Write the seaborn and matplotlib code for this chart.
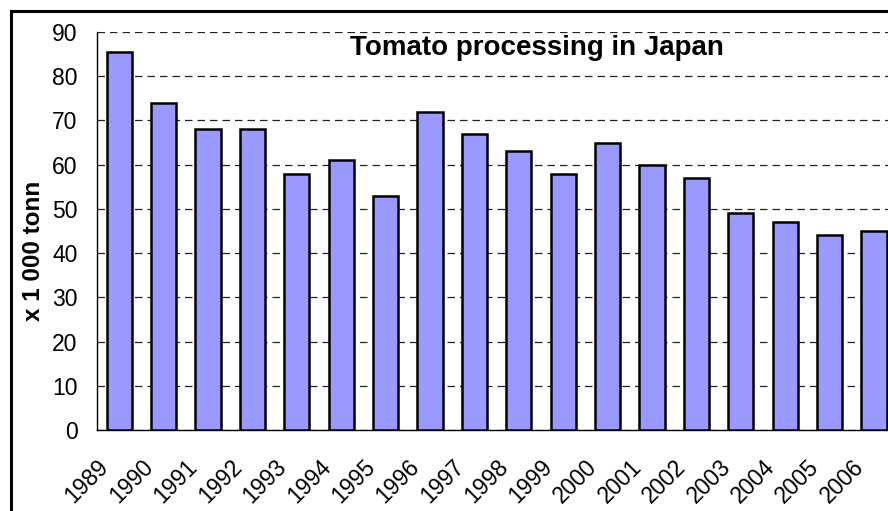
import matplotlib
matplotlib.use("Agg")
import matplotlib.pyplot as plt
import matplotlib.transforms as mtransforms
from matplotlib.patches import Rectangle
import numpy as np
import pandas as pd
import seaborn as sns

# datos
anios = ['1989', '1990', '1991', '1992', '1993', '1994', '1995', '1996', '1997',
         '1998', '1999', '2000', '2001', '2002', '2003', '2004', '2005', '2006']
toneladas = [85.5, 74, 68, 68, 58, 61, 53, 72, 67, 63, 58, 65, 60, 57, 49, 47, 44, 45]
y_ticks = [0, 10, 20, 30, 40, 50, 60, 70, 80, 90]

sns.set_style("white")
plt.rcParams['font.family'] = ['Liberation Sans', 'DejaVu Sans']
plt.rcParams.update({'text.color': 'black', 'axes.labelcolor': 'black',
                     'xtick.color': 'black', 'ytick.color': 'black'})

df = pd.DataFrame({'anio': anios, 'valor': toneladas})

W, H = 888, 511
fig = plt.figure(figsize=(W / 100, H / 100), dpi=100)
# el eje sigue mas alla del borde derecho (imagen recortada)
ax = fig.add_axes([97 / W, (H - 430) / H, 18 * 44.4 / W, 398 / H])

sns.barplot(data=df, x='anio', y='valor', ax=ax, color='#9999FF', saturation=1,
            width=0.57, edgecolor='black', linewidth=1.8, zorder=3)

ax.set_xlim(-0.5, len(anios) - 0.5)
ax.set_ylim(0, 90)
ax.set_yticks(y_ticks)
ax.yaxis.grid(True, linestyle=(0, (6, 4)), color='#222222', linewidth=0.9, zorder=0)
ax.xaxis.grid(False)

for lado in ['top', 'right']:
    ax.spines[lado].set_visible(False)
for lado in ['left', 'bottom']:
    ax.spines[lado].set_color('black')
    ax.spines[lado].set_linewidth(1.0)

ax.tick_params(axis='y', direction='out', length=8, width=1, labelsize=16.5, pad=6)
ax.set_xticks(np.arange(len(anios)))
ax.set_xticklabels(anios, rotation=45, ha='right', va='center',
                   rotation_mode='anchor', fontsize=16.5)
ax.tick_params(axis='x', which='major', length=0, pad=24)
ax.set_xticks(np.arange(-0.5, len(anios)), minor=True)
ax.tick_params(axis='x', which='minor', direction='out', length=6, width=1)

# desplazar etiquetas del eje x hacia la izquierda
desplazo = mtransforms.ScaledTranslation(-14 / 100, 0, fig.dpi_scale_trans)
for etiqueta in ax.get_xticklabels():
    etiqueta.set_transform(etiqueta.get_transform() + desplazo)

ax.set_xlabel('')
ax.set_ylabel('x 1 000 tonn', fontsize=17.5, fontweight='bold')
ax.yaxis.set_label_coords((45 - 97) / 799, (430 - 251) / 398)
ax.text((537 - 97) / 799, (430 - 48) / 398, 'Tomato processing in Japan',
        transform=ax.transAxes, ha='center', va='center', fontsize=20, fontweight='bold')

# marco exterior del grafico
fig.patches.append(Rectangle((11 / W, -0.1), 1.2, (H - 11) / H + 0.1,
                             transform=fig.transFigure, fill=False,
                             edgecolor='black', linewidth=2.2))

fig.savefig('out.png', dpi=100)
